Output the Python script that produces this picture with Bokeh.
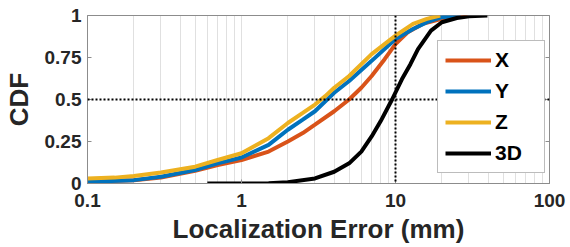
from bokeh.plotting import figure
from bokeh.models import FixedTicker, LinearAxis, Legend, LegendItem, Span
from bokeh.embed import file_html
from bokeh.resources import INLINE

# ---- data ----
x_err = [0.1, 0.2, 0.3, 0.5, 0.7, 1.0, 1.5, 2.0, 2.5, 3.0, 4.0, 5.0, 6.0, 7.0, 8.5, 10, 12, 15, 20, 25, 29.3]
x_cdf = [0.01, 0.02, 0.035, 0.075, 0.11, 0.14, 0.19, 0.25, 0.30, 0.35, 0.43, 0.50, 0.57, 0.64, 0.74, 0.83, 0.90, 0.95, 0.98, 0.99, 1.0]

y_err = [0.1, 0.2, 0.3, 0.5, 0.7, 1.0, 1.5, 2.0, 2.5, 3.0, 3.6, 4.0, 5.0, 7.0, 10, 13, 16, 20, 26.5]
y_cdf = [0.01, 0.02, 0.04, 0.08, 0.12, 0.155, 0.23, 0.32, 0.38, 0.43, 0.50, 0.54, 0.61, 0.73, 0.86, 0.92, 0.96, 0.99, 1.0]

z_err = [0.1, 0.15, 0.2, 0.3, 0.4, 0.5, 0.7, 1.0, 1.5, 2.0, 2.5, 3.0, 3.5, 4.0, 5.0, 7.0, 10, 13, 16, 19.5]
z_cdf = [0.03, 0.035, 0.045, 0.065, 0.085, 0.10, 0.14, 0.18, 0.27, 0.36, 0.42, 0.47, 0.52, 0.57, 0.64, 0.77, 0.88, 0.95, 0.98, 1.0]

d3_err = [0.6, 1.0, 1.5, 2.0, 3.0, 4.0, 5.0, 6.0, 7.0, 8.0, 9.5, 11, 12.5, 14, 17, 20, 25, 30, 39.5]
d3_cdf = [0.0, 0.0, 0.002, 0.008, 0.03, 0.07, 0.12, 0.19, 0.28, 0.37, 0.50, 0.62, 0.71, 0.80, 0.91, 0.96, 0.985, 0.995, 1.0]

series_names = ["X", "Y", "Z", "3D"]
series_colors = ["#D95319", "#0072BD", "#EDB120", "#000000"]

x_ticks = [0.1, 1, 10, 100]
x_tick_labels = ["0.1", "1", "10", "100"]
y_ticks = [0, 0.25, 0.5, 0.75, 1]
y_tick_labels = ["0", "0.25", "0.5", "0.75", "1"]

FONT = "Liberation Sans"
TXT = "#262626"
FRAME = "#8c8c8c"

W, H = 568, 247
p = figure(width=W, height=H, x_axis_type="log", x_range=(0.1, 100), y_range=(0, 1),
           output_backend="svg", toolbar_location=None,
           min_border_left=87, min_border_right=W - 549, min_border_top=15, min_border_bottom=H - 183)
p.background_fill_color = "white"
p.outline_line_color = FRAME
p.outline_line_width = 1

minor = [m * 10 ** e for e in (-1, 0, 1) for m in range(2, 10)]
p.xaxis.ticker = FixedTicker(ticks=x_ticks, minor_ticks=minor)
p.xaxis.major_label_overrides = {t: l for t, l in zip(x_ticks, x_tick_labels)}
p.yaxis.ticker = FixedTicker(ticks=y_ticks)
p.yaxis.major_label_overrides = {t: l for t, l in zip(y_ticks, y_tick_labels)}

for ax in (p.xaxis, p.yaxis):
    ax.axis_line_color = FRAME
    ax.major_tick_in = 4
    ax.major_tick_out = 0
    ax.minor_tick_in = 0
    ax.minor_tick_out = 0
    ax.major_tick_line_color = FRAME
    ax.major_label_text_font = FONT
    ax.major_label_text_font_style = "bold"
    ax.major_label_text_font_size = "19px"
    ax.major_label_text_color = TXT
    ax.axis_label_text_font = FONT
    ax.axis_label_text_font_style = "bold"
    ax.axis_label_text_font_size = "26px"
    ax.axis_label_text_color = TXT

p.xaxis.axis_label = "Localization Error (mm)"
p.yaxis.axis_label = "CDF"
p.xaxis.major_label_standoff = 10
p.yaxis.major_label_standoff = 6
p.xaxis.axis_label_standoff = 4
p.yaxis.axis_label_standoff = 8

r_axis = LinearAxis(ticker=FixedTicker(ticks=y_ticks),
                    major_label_overrides={t: "" for t in y_ticks},
                    axis_line_color=FRAME, major_tick_in=4, major_tick_out=0,
                    minor_tick_in=0, minor_tick_out=0, major_tick_line_color=FRAME,
                    major_label_standoff=0)
p.add_layout(r_axis, "right")

p.xgrid.grid_line_color = "#c0c0c0"
p.xgrid.grid_line_dash = "1 1"
p.xgrid.minor_grid_line_color = "#c0c0c0"
p.xgrid.minor_grid_line_dash = "1 1"
p.ygrid.grid_line_color = None

p.add_layout(Span(location=0.5, dimension="width", line_color="black", line_dash="2 2", line_width=2))
p.add_layout(Span(location=10, dimension="height", line_color="black", line_dash="2 2", line_width=2))

renderers = []
for xs, ys, c in zip([x_err, y_err, z_err, d3_err], [x_cdf, y_cdf, z_cdf, d3_cdf], series_colors):
    renderers.append(p.line(xs, ys, line_color=c, line_width=4))

legend = Legend(items=[LegendItem(label=n, renderers=[r]) for n, r in zip(series_names, renderers)],
                location=(350, 10), label_text_font=FONT, label_text_font_style="bold",
                label_text_font_size="21px", label_text_color="black",
                glyph_width=46, glyph_height=20, label_height=20, label_width=42,
                spacing=7, padding=7, margin=0,
                label_standoff=4, border_line_color="#7a7a7a", border_line_width=1,
                background_fill_color="white", background_fill_alpha=1)
p.add_layout(legend, "center")

open("out.html", "w").write(file_html(p, INLINE))
